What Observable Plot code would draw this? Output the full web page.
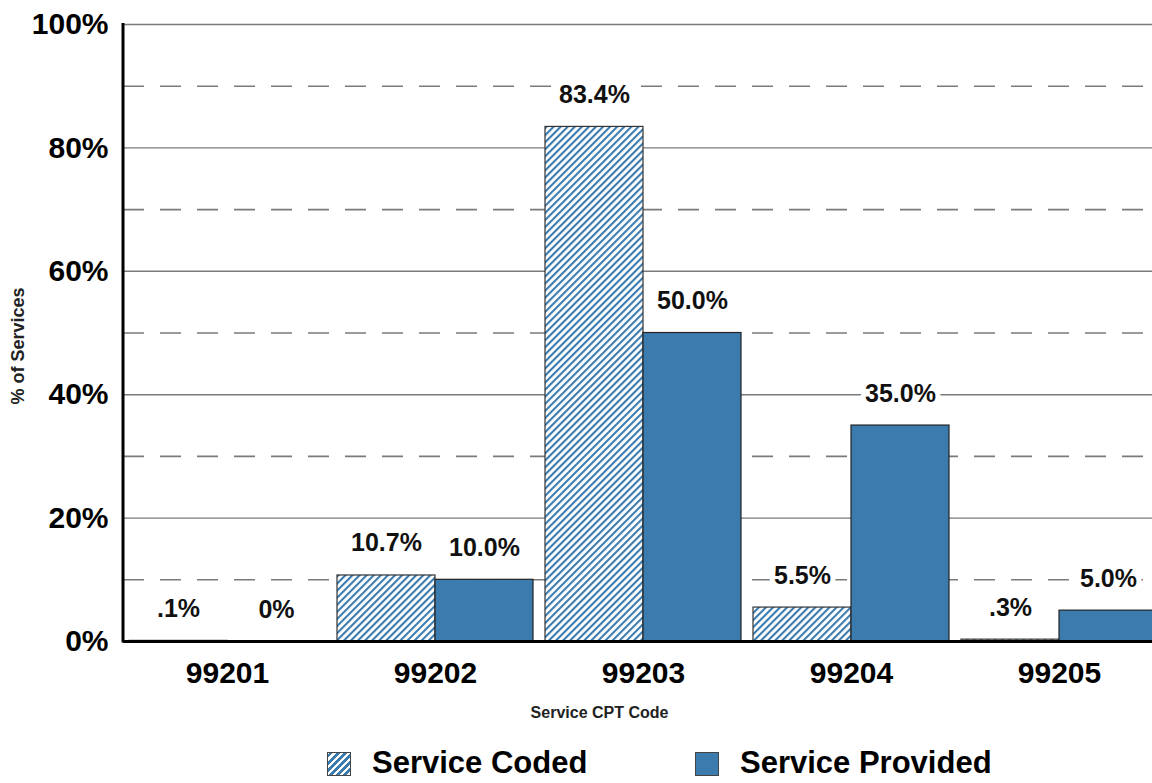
<!DOCTYPE html>
<html>
<head>
<meta charset="utf-8">
<script src="https://cdn.jsdelivr.net/npm/d3@7"></script>
<script src="https://cdn.jsdelivr.net/npm/@observablehq/plot@0.6"></script>
<style>
  html, body { margin: 0; padding: 0; background: #fff; overflow: hidden; }
  body { font-family: "Liberation Sans", Arial, sans-serif; font-weight: bold; }
  #wrap { position: relative; width: 1152px; height: 783px; overflow: hidden; }
  #chart svg { max-width: none !important; height: 735px !important; width: 1163px !important; display: block; }
  #chart svg g[aria-label^="y-axis"] text { font-size: 30px; }
  #chart svg g[aria-label^="x-axis"] text { font-size: 30px; }
  #legend { position: absolute; left: 0; top: 745px; width: 1152px; height: 36px; }
  .sw { position: absolute; top: 7px; width: 24px; height: 24px; box-sizing: border-box; border: 1.3px solid #444; }
  .lt { position: absolute; top: 0; font-size: 31px; line-height: 36px; color: #000; white-space: nowrap; }
</style>
</head>
<body>
<div id="wrap">
  <div id="chart"></div>
  <div id="legend"></div>
</div>
<script>
const categories = ["99201", "99202", "99203", "99204", "99205"];
const seriesNames = ["Service Coded", "Service Provided"];
const codedValues = [0.1, 10.7, 83.4, 5.5, 0.3];
const providedValues = [0, 10.0, 50.0, 35.0, 5.0];
const codedLabels = [".1%", "10.7%", "83.4%", "5.5%", ".3%"];
const providedLabels = ["0%", "10.0%", "50.0%", "35.0%", "5.0%"];
const yTicks = [0, 20, 40, 60, 80, 100];
const gridSolid = [20, 40, 60, 80, 100];
const gridDashed = [10, 30, 50, 70, 90];

const blue = "#3b7bae";

const coded = categories.map((c, i) => ({category: c, series: seriesNames[0], value: codedValues[i], label: codedLabels[i]}));
const provided = categories.map((c, i) => ({category: c, series: seriesNames[1], value: providedValues[i], label: providedLabels[i]}));

function hatchDefs() {
  const defs = d3.create("svg:defs");
  const p = defs.append("pattern")
    .attr("id", "hatch")
    .attr("patternUnits", "userSpaceOnUse")
    .attr("width", 5).attr("height", 5)
    .attr("patternTransform", "rotate(45)");
  p.append("rect").attr("width", 5).attr("height", 5).attr("fill", "#fff");
  p.append("rect").attr("x", 0).attr("y", 0).attr("width", 2.1).attr("height", 5).attr("fill", blue);
  return defs.node();
}

function leftAxisLine(index, scales, values, dims) {
  const g = d3.create("svg:g");
  g.append("line")
    .attr("x1", dims.marginLeft).attr("x2", dims.marginLeft)
    .attr("y1", dims.marginTop - 1).attr("y2", dims.height - dims.marginBottom + 1.5)
    .attr("stroke", "#000").attr("stroke-width", 3);
  return g.node();
}

const half = 98;

const chart = Plot.plot({
  width: 1163,
  height: 735,
  marginLeft: 123,
  marginRight: 0,
  marginTop: 24,
  marginBottom: 94,
  style: {fontFamily: '"Liberation Sans", Arial, sans-serif', fontWeight: "bold", background: "white", color: "#000"},
  x: {domain: categories, paddingInner: 0.058, paddingOuter: 0.029, label: null, tickSize: 0, tickPadding: 20},
  y: {domain: [0, 100], ticks: yTicks, tickFormat: d => d + "%", label: null, tickSize: 0, tickPadding: 15},
  marks: [
    () => hatchDefs(),
    Plot.ruleY(gridSolid, {stroke: "#7a7a7a", strokeWidth: 1.4}),
    Plot.ruleY(gridDashed, {stroke: "#7a7a7a", strokeWidth: 1.6, strokeDasharray: "21,16"}),
    Plot.barY(coded, {x: "category", y: "value", insetRight: half, fill: "url(#hatch)", stroke: "#333", strokeWidth: 1.2}),
    Plot.barY(provided, {x: "category", y: "value", insetLeft: half, fill: blue, stroke: "#222", strokeWidth: 1.2}),
    Plot.ruleY([0], {stroke: "#000", strokeWidth: 3}),
    leftAxisLine,
    Plot.text(coded, {x: "category", y: "value", text: "label", dx: -half / 2, dy: -32, fontSize: 25, fill: "#111", stroke: "white", strokeWidth: 10, textAnchor: "middle", lineAnchor: "middle"}),
    Plot.text(provided, {x: "category", y: "value", text: "label", dx: half / 2, dy: -32, fontSize: 25, fill: "#111", stroke: "white", strokeWidth: 10, textAnchor: "middle", lineAnchor: "middle"}),
    Plot.text(["Service CPT Code"], {frameAnchor: "bottom", dy: 71, dx: -44, fontSize: 16, fill: "#222", textAnchor: "middle", lineAnchor: "middle"}),
    Plot.text(["% of Services"], {frameAnchor: "left", dx: -105, dy: 13, rotate: -90, fontSize: 18, fill: "#222", textAnchor: "middle", lineAnchor: "middle"})
  ]
});
document.getElementById("chart").appendChild(chart);

const legend = document.getElementById("legend");
const legendItems = [
  {name: seriesNames[0], swLeft: 327, txLeft: 372, hatch: true},
  {name: seriesNames[1], swLeft: 695, txLeft: 740, hatch: false}
];
legendItems.forEach(it => {
  const sw = document.createElement("div");
  sw.className = "sw";
  sw.style.left = it.swLeft + "px";
  if (it.hatch) {
    sw.style.background = `repeating-linear-gradient(-45deg, #fff 0px, #fff 2.6px, ${blue} 2.6px, ${blue} 5px)`;
  } else {
    sw.style.background = blue;
  }
  legend.appendChild(sw);
  const tx = document.createElement("div");
  tx.className = "lt";
  tx.style.left = it.txLeft + "px";
  tx.textContent = it.name;
  legend.appendChild(tx);
});
</script>
</body>
</html>
